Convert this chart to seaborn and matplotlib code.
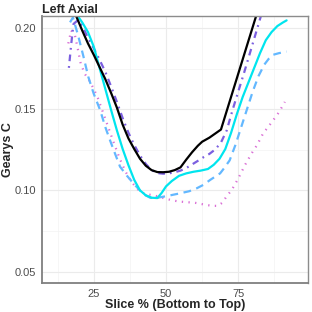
import matplotlib
matplotlib.use('Agg')
import matplotlib.pyplot as plt
import seaborn as sns
import pandas as pd
from matplotlib.ticker import MultipleLocator

# valores (Gearys C por % da fatia)
x_preto = [17, 19, 21, 23, 25, 27, 29, 31, 33, 35, 37, 39, 41, 43, 45, 47, 49, 51, 53,
           55, 57, 59, 61, 62.5, 65, 67, 69, 71, 73, 75, 77, 79, 81, 83, 85]
y_preto = [0.215, 0.207, 0.1985, 0.1905, 0.1835, 0.176, 0.1685, 0.160, 0.151, 0.1405,
           0.132, 0.1255, 0.1195, 0.1152, 0.1125, 0.1113, 0.1112, 0.1115, 0.1125,
           0.1142, 0.119, 0.1235, 0.1275, 0.130, 0.1325, 0.135, 0.1375, 0.149, 0.1605,
           0.172, 0.1835, 0.195, 0.2065, 0.218, 0.229]

x_ciano = [17, 19, 21, 23, 25, 27, 29, 31, 33, 35, 37, 39, 41, 43, 45, 47, 48.5, 50, 52,
           54.5, 57, 59.5, 62, 64.5, 66.5, 68.5, 70.5, 72.5, 74.5, 76.5, 78.5, 80.5,
           82.5, 84.5, 86.5, 88.5, 90.5, 91.7]
y_ciano = [0.214, 0.2085, 0.2035, 0.1975, 0.1885, 0.1755, 0.1625, 0.1495, 0.137, 0.1255,
           0.1155, 0.1065, 0.100, 0.097, 0.0955, 0.0953, 0.0985, 0.1025, 0.1058, 0.109,
           0.1105, 0.1115, 0.1122, 0.1132, 0.1158, 0.1195, 0.1255, 0.1355, 0.147,
           0.1575, 0.1665, 0.1755, 0.1845, 0.1925, 0.1975, 0.2012, 0.2035, 0.2047]

x_roxo = [16.4, 17.2, 18, 19.5, 21, 23, 25, 27, 29, 31, 33, 35, 37, 39, 41, 43, 45, 47,
          49, 51, 53, 55, 57, 59, 61, 63, 65, 67, 69, 71, 73, 75, 77, 79, 81, 83, 85]
y_roxo = [0.1755, 0.19, 0.2025, 0.2048, 0.2015, 0.194, 0.1875, 0.1805, 0.173, 0.164,
          0.1545, 0.1445, 0.1355, 0.128, 0.1215, 0.1163, 0.1125, 0.1107, 0.1103,
          0.1105, 0.1112, 0.1122, 0.1138, 0.116, 0.1182, 0.1205, 0.1225, 0.1252,
          0.1295, 0.137, 0.1495, 0.161, 0.1725, 0.1845, 0.1965, 0.2085, 0.220]

x_azul = [16.8, 17.8, 19.7, 21.5, 23.1, 25, 27.2, 29, 30.6, 32.5, 34.1, 36.5, 38.7, 40.7,
          42.7, 44.5, 46.2, 48, 51, 54.8, 58, 60.6, 63, 65.2, 67, 68.7, 70, 72, 74, 76,
          78, 80, 82, 84, 85.5, 87, 89, 91.7]
y_azul = [0.2035, 0.2065, 0.1947, 0.182, 0.170, 0.1595, 0.1495, 0.139, 0.131, 0.122,
          0.1146, 0.109, 0.1044, 0.1005, 0.0972, 0.0955, 0.0951, 0.0958, 0.0968,
          0.0982, 0.0995, 0.1013, 0.1035, 0.1064, 0.1085, 0.1105, 0.1135, 0.1185,
          0.128, 0.139, 0.150, 0.161, 0.1705, 0.1775, 0.181, 0.1835, 0.1845, 0.1855]

x_rosa = [16.2, 17.2, 18.5, 19.5, 20.5, 22, 23.5, 25, 26.5, 28, 30, 32, 34, 36, 38, 40,
          42, 44, 46, 48, 50, 52, 54.3, 57, 60, 63.5, 66, 68, 69.5, 71, 72.7, 75, 77.3,
          79.6, 81.5, 83.6, 85.5, 87.1, 89, 91.1]
y_rosa = [0.1905, 0.1985, 0.1955, 0.187, 0.178, 0.1715, 0.1675, 0.1625, 0.1565, 0.149,
          0.139, 0.129, 0.1195, 0.1115, 0.1055, 0.101, 0.0985, 0.0975, 0.0968, 0.096,
          0.0948, 0.094, 0.0932, 0.0928, 0.0924, 0.0912, 0.0905, 0.0905, 0.0925,
          0.0965, 0.1002, 0.1074, 0.1156, 0.1228, 0.128, 0.1352, 0.1395, 0.1433,
          0.148, 0.1545]

yticks = [0.05, 0.10, 0.15, 0.20]
xticks = [25, 50, 75]

sns.set_theme(style='whitegrid')
plt.rcParams['font.family'] = ['Liberation Sans', 'DejaVu Sans']

fig = plt.figure(figsize=(3.12, 3.12), dpi=100)
ax = fig.add_axes([42 / 312, 29 / 312, 266 / 312, 267 / 312])

series = [
    (x_rosa, y_rosa, '#DA70D6', (0, (0.6, 2.4))),
    (x_azul, y_azul, '#63B8FF', (0, (3.5, 2.5))),
    (x_roxo, y_roxo, '#7B5FE0', (0, (0.8, 2.2, 3, 2.2))),
    (x_ciano, y_ciano, '#00E5EE', '-'),
    (x_preto, y_preto, 'black', '-'),
]
for xs, ys, cor, estilo in series:
    df = pd.DataFrame({'x': xs, 'y': ys})
    sns.lineplot(data=df, x='x', y='y', ax=ax, color=cor, linestyle=estilo,
                 linewidth=1.6, estimator=None, sort=False)

ax.set_xlim(7.1, 99.1)
ax.set_ylim(0.043, 0.2074)
ax.set_xticks(xticks)
ax.set_yticks(yticks)
ax.set_yticklabels(['0.05', '0.10', '0.15', '0.20'])
ax.xaxis.set_minor_locator(MultipleLocator(12.5))
ax.yaxis.set_minor_locator(MultipleLocator(0.025))

ax.grid(True, which='major', color='#EBEBEB', linewidth=0.8)
ax.grid(True, which='minor', color='#F3F3F3', linewidth=0.5)
ax.set_facecolor('white')
for s in ax.spines.values():
    s.set_color('#8C8C8C')
    s.set_linewidth(1.0)
ax.spines['left'].set_linewidth(1.3)
ax.spines['bottom'].set_linewidth(1.3)
ax.spines['left'].set_color('#7F7F7F')
ax.spines['bottom'].set_color('#7F7F7F')

ax.tick_params(axis='both', which='major', length=3, width=0.8, color='#7F7F7F',
               labelsize=8, labelcolor='#4D4D4D', pad=1.5)
ax.tick_params(axis='both', which='minor', length=0)

ax.set_title('Left Axial', loc='left', fontweight='bold', fontsize=9, pad=2.5)
ax.set_xlabel('Slice % (Bottom to Top)', fontweight='bold', fontsize=9)
ax.set_ylabel('Gearys C', fontweight='bold', fontsize=9)
ax.yaxis.set_label_coords(-0.128, 0.5)
ax.yaxis.label.set_verticalalignment('center')
ax.xaxis.set_label_coords(0.5, -0.083)
ax.xaxis.label.set_verticalalignment('center')

plt.savefig('out.png', dpi=100)
